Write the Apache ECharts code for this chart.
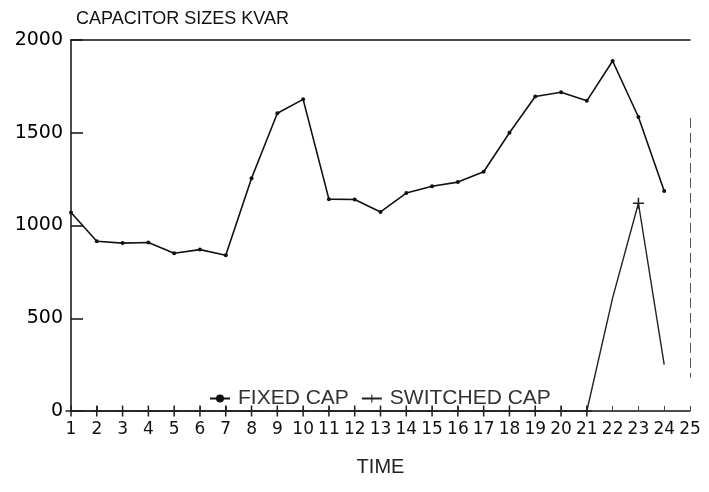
<!DOCTYPE html>
<html>
<head>
<meta charset="utf-8">
<script src="https://cdn.jsdelivr.net/npm/echarts@6/dist/echarts.min.js"></script>
<style>html,body{margin:0;padding:0;background:#fff;}#chart{width:709px;height:492px;}</style>
</head>
<body>
<div id="chart"></div>
<script>
const categories = ['1','2','3','4','5','6','7','8','9','10','11','12','13','14','15','16','17','18','19','20','21','22','23','24','25'];
const fixedCap = [1070, 915, 905, 908, 850, 870, 840, 1255, 1605, 1680, 1142, 1140, 1073, 1175, 1212, 1234, 1290, 1500, 1695, 1718, 1672, 1887, 1585, 1186];
const switchedCap = [0, 0, 0, 0, 0, 0, 0, 0, 0, 0, 0, 0, 0, 0, 0, 0, 0, 0, 0, 0, 0, 610, 1120, 250];
const yTicks = [0, 500, 1000, 1500, 2000];
const rightEdge = [1580, 180];

const chart = echarts.init(document.getElementById('chart'));
const font = 'Liberation Sans, Arial, sans-serif';
const digitFont = 'DejaVu Sans, sans-serif';
const switchedMax = Math.max(...switchedCap);
chart.setOption({
  animation: false,
  backgroundColor: '#fff',
  title: {
    text: 'CAPACITOR SIZES KVAR',
    left: 71, top: 5,
    textStyle: { fontFamily: font, fontSize: 18, fontWeight: 'normal', color: '#111' }
  },
  legend: {
    left: 204, top: 383,
    itemWidth: 20, itemHeight: 10, itemGap: 12,
    textStyle: { fontFamily: font, fontSize: 21, color: '#333', padding: [0, 0, 0, 3] },
    data: ['FIXED CAP', 'SWITCHED CAP']
  },
  grid: { left: 71, right: 19, top: 40, bottom: 81 },
  xAxis: [{
    type: 'category',
    data: categories,
    boundaryGap: false,
    name: 'TIME',
    nameLocation: 'middle',
    nameGap: 46,
    nameTextStyle: { fontFamily: font, fontSize: 20, color: '#222' },
    axisLine: { lineStyle: { color: '#111', width: 1.5 } },
    axisTick: { show: true, inside: true, length: 5, interval: 0, lineStyle: { color: '#444' } },
    axisLabel: { interval: 0, fontFamily: digitFont, fontSize: 17, color: '#111', margin: 10 },
    splitLine: { show: false }
  }, {
    type: 'category',
    data: categories,
    boundaryGap: false,
    position: 'top',
    axisLine: { lineStyle: { color: '#111', width: 1.5 } },
    axisTick: { show: false },
    axisLabel: { show: false },
    splitLine: { show: false }
  }],
  yAxis: {
    type: 'value',
    min: 0, max: 2000, interval: 500,
    axisLine: { show: true, lineStyle: { color: '#111', width: 1.5 } },
    axisTick: { show: true, inside: true, length: 12, lineStyle: { color: '#111', width: 1.5 } },
    axisLabel: { fontFamily: digitFont, fontSize: 19, color: '#000', margin: 8,
      formatter: v => yTicks.includes(v) ? String(v) : '' },
    splitLine: { show: false }
  },
  series: [{
    name: 'FIXED CAP',
    type: 'line',
    data: fixedCap,
    symbol: 'circle',
    symbolSize: 4,
    lineStyle: { color: '#111', width: 1.6 },
    itemStyle: { color: '#111' }
  }, {
    name: 'SWITCHED CAP',
    type: 'line',
    data: switchedCap,
    clip: false,
    z: 5,
    symbol: 'path://M4.3,0h1.4v4.3h4.3v1.4h-4.3v4.3h-1.4v-4.3h-4.3v-1.4h4.3z',
    showAllSymbol: true,
    symbolSize: v => (v === 0 || v === switchedMax) ? 11 : 0,
    lineStyle: { color: '#222', width: 1.4 },
    itemStyle: { color: '#222' },
    markLine: {
      silent: true,
      symbol: 'none',
      label: { show: false },
      lineStyle: { color: '#555', width: 1, type: [10, 5] },
      data: [[{ coord: ['25', rightEdge[0]] }, { coord: ['25', rightEdge[1]] }]]
    }
  }]
});
</script>
</body>
</html>
